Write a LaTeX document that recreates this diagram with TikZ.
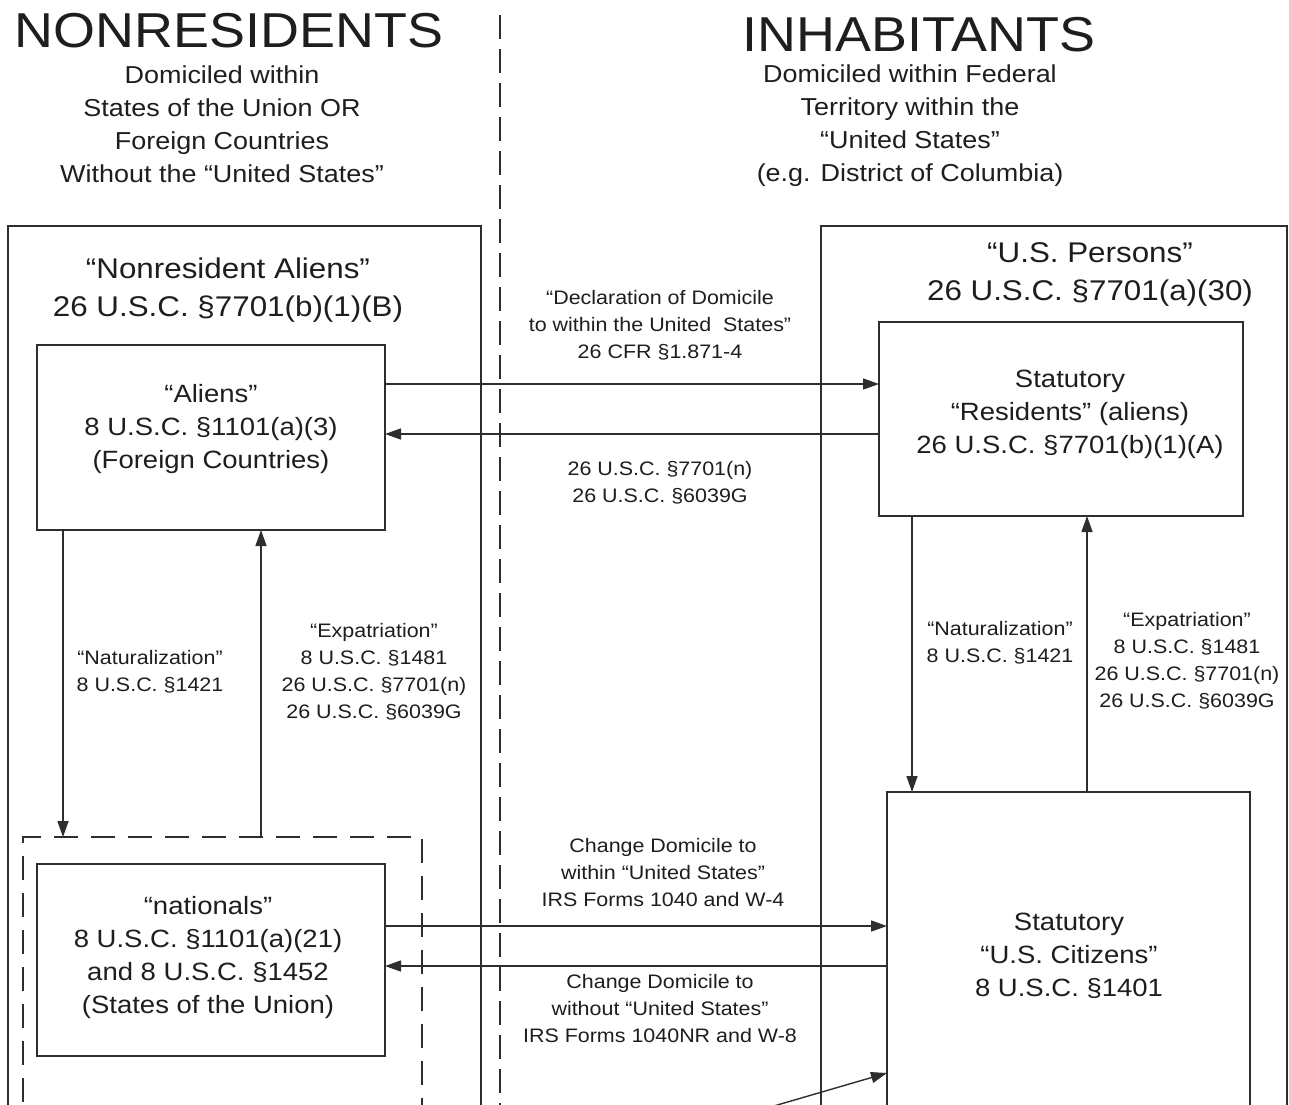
\documentclass[tikz,border=0pt]{standalone}
\usepackage{fontspec}
\setmainfont{Liberation Sans}[FakeStretch=1.1]
\usetikzlibrary{arrows.meta}
\definecolor{ink}{HTML}{1E1E1E}
\definecolor{ln}{HTML}{2E2E2E}
\tikzset{
  boxnode/.style={draw=ln, line width=1.4pt, inner sep=0pt, outer sep=0pt},
  dashnode/.style={boxnode, dash pattern=on 24pt off 13pt},
  arr/.style={draw=ln, line width=1.4pt, -{Triangle[length=16pt,width=11pt]}},
  titletxt/.style={text=ink, font=\fontsize{49}{56}\selectfont, inner sep=0pt},
  subtxt/.style={text=ink, align=center, font=\fontsize{24.5}{33}\selectfont, inner sep=0pt},
  headtxt/.style={text=ink, align=center, font=\fontsize{28.5}{38}\selectfont, inner sep=0pt},
  boxtxt/.style={text=ink, align=center, font=\fontsize{25}{33}\selectfont, inner sep=0pt},
  lbltxt/.style={text=ink, align=center, font=\fontsize{19.5}{27}\selectfont, inner sep=0pt},
}
\begin{document}
\begin{tikzpicture}[x=1pt,y=-1pt]
\useasboundingbox (0,0) rectangle (1289,1104);
\clip (0,0) rectangle (1289,1104);
\fill[white] (0,0) rectangle (1289,1104);

% divider
\coordinate (divtop) at (500,15);
\coordinate (divbot) at (500,1110);
\draw[ln, line width=1.4pt, dash pattern=on 24pt off 10pt] (divtop) -- (divbot);

% titles
\node[titletxt] (nonres) at (229,31) {NONRESIDENTS};
\node[titletxt] (inhab) at (919,35) {INHABITANTS};
\node[subtxt] (nonressub) at (222,124) {Domiciled within\\States of the Union OR\\Foreign Countries\\Without the “United States”};
\node[subtxt] (inhabsub) at (910,126) {Domiciled within Federal\\Territory within the\\“United States”\\(e.g. District of Columbia)};

% boxes
\node[boxnode, minimum width=473pt, minimum height=904pt] (leftouter) at (244.5,678) {};
\node[boxnode, minimum width=466pt, minimum height=904pt] (rightouter) at (1054,678) {};
\node[boxnode, minimum width=348pt, minimum height=185pt] (aliens) at (211,437.5) {};
\node[boxnode, minimum width=364pt, minimum height=194pt] (residents) at (1061,419) {};
\node[dashnode, minimum width=399pt, minimum height=293pt] (dashbox) at (222.5,983.5) {};
\node[boxnode, minimum width=348pt, minimum height=192pt] (nationals) at (211,960) {};
\node[boxnode, minimum width=363pt, minimum height=338pt] (citizens) at (1068.5,961) {};

% box texts
\node[headtxt] (nrahead) at (228,290) {“Nonresident Aliens”\\26 U.S.C. §7701(b)(1)(B)};
\node[headtxt] (usphead) at (1090,274.5) {“U.S. Persons”\\26 U.S.C. §7701(a)(30)};
\node[boxtxt] (alienstxt) at (211,429) {“Aliens”\\8 U.S.C. §1101(a)(3)\\(Foreign Countries)};
\node[boxtxt] (residentstxt) at (1070,414) {Statutory\\“Residents” (aliens)\\26 U.S.C. §7701(b)(1)(A)};
\node[boxtxt] (nationalstxt) at (208,958) {“nationals”\\8 U.S.C. §1101(a)(21)\\and 8 U.S.C. §1452\\(States of the Union)};
\node[boxtxt] (citizenstxt) at (1069,955.5) {Statutory\\“U.S. Citizens”\\8 U.S.C. §1401};

% connector labels
\node[lbltxt] (decl) at (660,325) {“Declaration of Domicile\\to within the United~ States”\\26 CFR §1.871-4};
\node[lbltxt] (back) at (660,482.5) {26 U.S.C. §7701(n)\\26 U.S.C. §6039G};
\node[lbltxt] (natl) at (150,671.5) {“Naturalization”\\8 U.S.C. §1421};
\node[lbltxt] (expl) at (374,672) {“Expatriation”\\8 U.S.C. §1481\\26 U.S.C. §7701(n)\\26 U.S.C. §6039G};
\node[lbltxt] (natr) at (1000,642.5) {“Naturalization”\\8 U.S.C. §1421};
\node[lbltxt] (expr) at (1187,660.5) {“Expatriation”\\8 U.S.C. §1481\\26 U.S.C. §7701(n)\\26 U.S.C. §6039G};
\node[lbltxt] (chgin) at (663,873) {Change Domicile to\\within “United States”\\IRS Forms 1040 and W-4};
\node[lbltxt] (chgout) at (660,1009) {Change Domicile to\\without “United States”\\IRS Forms 1040NR and W-8};

% connectors
\draw[arr] ([yshift=53.5pt]aliens.east) -- ([yshift=35pt]residents.west);
\draw[arr] ([yshift=-15pt]residents.west) -- ([yshift=3.5pt]aliens.east);
\draw[arr] ([xshift=-148pt]aliens.south) -- ([xshift=-159.5pt]dashbox.north);
\draw[arr] ([xshift=38.5pt]dashbox.north) -- ([xshift=50pt]aliens.south);
\draw[arr] ([xshift=-149pt]residents.south) -- ([xshift=-156.5pt]citizens.north);
\draw[arr] ([xshift=18.5pt]citizens.north) -- ([xshift=26pt]residents.south);
\draw[arr] ([yshift=34pt]nationals.east) -- ([yshift=35pt]citizens.west);
\draw[arr] ([yshift=-5pt]citizens.west) -- ([yshift=-6pt]nationals.east);
\coordinate (bstart) at (700,1127.5);
\draw[arr] (bstart) -- ([yshift=-112pt]citizens.west);
\end{tikzpicture}
\end{document}
